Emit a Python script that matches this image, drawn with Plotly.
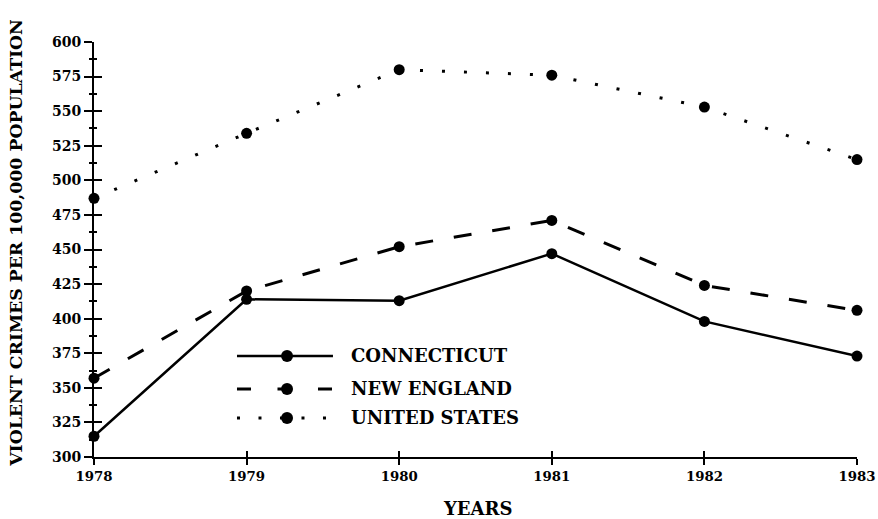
import plotly.graph_objects as go

years = [1978, 1979, 1980, 1981, 1982, 1983]
connecticut = [315, 414, 413, 447, 398, 373]
new_england = [357, 420, 452, 471, 424, 406]
united_states = [487, 534, 580, 576, 553, 515]
y_ticks = list(range(300, 601, 25))
series_names = ["CONNECTICUT", "NEW ENGLAND", "UNITED STATES"]

FONT = "DejaVu Serif"
black = "#000000"

styles = [
    dict(width=2.5, dash="solid"),
    dict(width=3, dash="18px,21px"),
    dict(width=3, dash="3px,19px"),
]
legend_dash = ["solid", "14px,26.5px", "3px,18.5px"]

fig = go.Figure()
for vals, st in zip([connecticut, new_england, united_states], styles):
    fig.add_trace(go.Scatter(
        x=years, y=vals, mode="lines+markers",
        line=dict(color=black, width=st["width"], dash=st["dash"]),
        marker=dict(color=black, size=11, symbol="circle"),
        cliponaxis=False, showlegend=False, hoverinfo="skip",
    ))

# helper trace so overlay axes (crossing ticks) get drawn
fig.add_trace(go.Scatter(x=[None], y=[None], xaxis="x2", yaxis="y2",
                         showlegend=False, hoverinfo="skip"))

# manual legend in a 0-1 overlay frame
leg_rows = [0.2434, 0.1639, 0.094]
x0, xm, x1, xt = 0.1874, 0.2530, 0.3132, 0.3342
for name, yy, dsh, st in zip(series_names, leg_rows, legend_dash, styles):
    fig.add_trace(go.Scatter(
        x=[x0, x1], y=[yy, yy], mode="lines", xaxis="x3", yaxis="y3",
        line=dict(color=black, width=st["width"], dash=dsh),
        cliponaxis=False, showlegend=False, hoverinfo="skip",
    ))
    fig.add_trace(go.Scatter(
        x=[xm], y=[yy], mode="markers", xaxis="x3", yaxis="y3",
        marker=dict(color=black, size=12, symbol="circle"),
        cliponaxis=False, showlegend=False, hoverinfo="skip",
    ))
    fig.add_annotation(x=xt, y=yy, xref="x3", yref="y3", text="<b>" + name + "</b>",
                       showarrow=False, xanchor="left", yanchor="middle",
                       font=dict(family=FONT, size=18, color=black))

# axis titles
fig.add_annotation(x=0, y=0.516, xref="paper", yref="paper", xshift=-78,
                   text="<b>VIOLENT CRIMES PER 100,000 POPULATION</b>", textangle=-90,
                   showarrow=False, xanchor="center", yanchor="middle",
                   font=dict(family=FONT, size=17.3, color=black))
fig.add_annotation(x=0.503, y=0, xref="paper", yref="paper", yshift=-51,
                   text="<b>YEARS</b>", showarrow=False,
                   xanchor="center", yanchor="middle",
                   font=dict(family=FONT, size=18, color=black))

fig.update_layout(
    width=878, height=519,
    margin=dict(l=94, r=21, t=42, b=62),
    paper_bgcolor="white", plot_bgcolor="white",
    font=dict(family=FONT, color=black),
    hovermode=False,
    xaxis=dict(
        range=[1978, 1983], tickmode="array", tickvals=years,
        ticktext=[str(y) for y in years],
        showgrid=False, zeroline=False, automargin=False,
        ticklabeloverflow="allow",
        showline=True, linecolor=black, linewidth=2,
        ticks="outside", ticklen=6, tickwidth=1.5, tickcolor=black,
        tickfont=dict(family=FONT, size=13.3, color=black, weight="bold"),
    ),
    yaxis=dict(
        range=[300, 600], tickmode="array", tickvals=y_ticks,
        ticktext=[str(v) for v in y_ticks],
        showgrid=False, zeroline=False, automargin=False,
        showline=True, linecolor=black, linewidth=2,
        ticks="outside", ticklen=8, tickwidth=1.5, tickcolor=black,
        minor=dict(tick0=300, dtick=12.5, ticks="outside", ticklen=3,
                   tickwidth=1.5, tickcolor=black, showgrid=False),
        tickfont=dict(family=FONT, size=14, color=black, weight="bold"),
    ),
    xaxis2=dict(
        overlaying="x", anchor="y2", range=[1978, 1983], tickmode="array",
        tickvals=years, showticklabels=False, showgrid=False, zeroline=False,
        showline=False, ticks="inside", ticklen=6, tickwidth=1.5, tickcolor=black,
    ),
    yaxis2=dict(
        overlaying="y", anchor="x2", side="left", range=[300, 600], tickmode="array",
        tickvals=y_ticks, showticklabels=False, showgrid=False, zeroline=False,
        showline=False, ticks="inside", ticklen=8, tickwidth=1.5, tickcolor=black,
        minor=dict(tick0=300, dtick=12.5, ticks="inside", ticklen=3,
                   tickwidth=1.5, tickcolor=black, showgrid=False),
    ),
    xaxis3=dict(overlaying="x", anchor="y3", range=[0, 1], visible=False),
    yaxis3=dict(overlaying="y", anchor="x3", range=[0, 1], visible=False),
)

# remove the default 8px page margin so the figure fills the window exactly
fig.write_html(
    "out.html",
    config={"displayModeBar": False},
    post_script="document.body.style.margin='0';document.body.style.overflow='hidden';",
)
